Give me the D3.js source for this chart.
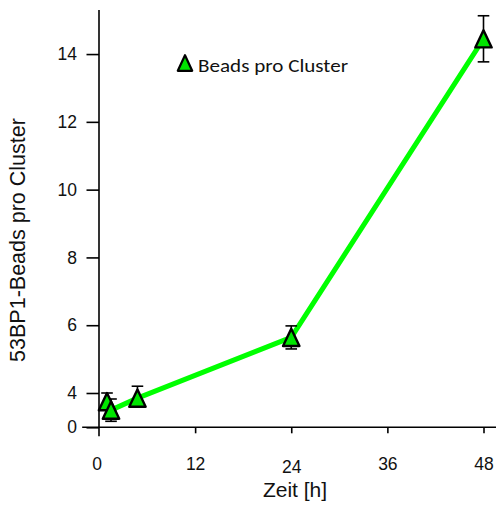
<!DOCTYPE html>
<html>
<head>
<meta charset="utf-8">
<script src="https://cdn.jsdelivr.net/npm/d3@7/dist/d3.min.js"></script>
<style>
  html, body { margin: 0; padding: 0; background: #fff; }
  svg { display: block; }
  text { font-family: "Liberation Sans", Arial, Helvetica, sans-serif; fill: #111; }
</style>
</head>
<body>
<svg id="chart" width="496" height="505"></svg>
<script>
// Time points (hours) and 53BP1 bead counts per cluster (mean ± error)
const times = [1, 1.5, 4.8, 24, 48];
const means = [3.0, 2.0, 3.4, 5.64, 14.45];
const errors = [1.0, 1.3, 0.8, 0.34, 0.68];

const xTicks = [0, 12, 24, 36, 48];
const yTicks = [0, 4, 6, 8, 10, 12, 14];

const seriesName = "Beads pro Cluster";
const xTitle = "Zeit [h]";
const yTitle = "53BP1-Beads pro Cluster";

const svg = d3.select("#chart");
const W = 496;

// x: hours; y: broken axis, 0–4 compressed below the main 4–15 range
const x = d3.scaleLinear().domain([0, 48]).range([99, 483.5]);
const y = d3.scaleLinear().domain([0, 4, 15.3]).range([427.3, 393, 10]);

const lime = "#00ff00";
const fillGreen = "#00e600";

// axis lines
svg.append("line")
  .attr("x1", x(-2.1)).attr("x2", W)
  .attr("y1", y(0)).attr("y2", y(0))
  .attr("stroke", "#000").attr("stroke-width", 1.6);
svg.append("line")
  .attr("x1", x(0)).attr("x2", x(0))
  .attr("y1", y(15.3)).attr("y2", y(0) + 9)
  .attr("stroke", "#000").attr("stroke-width", 1.6);

// y axis ticks + labels
const yAxis = d3.axisLeft(y).tickValues(yTicks).tickSize(12.5).tickPadding(9.5).tickFormat(d3.format("d"));
const gy = svg.append("g").attr("transform", `translate(${x(0)},0)`).call(yAxis);
gy.select(".domain").remove();
gy.selectAll(".tick line").attr("stroke", "#000").attr("stroke-width", 1.6);
gy.selectAll(".tick text").style("font-size", "17.5px").attr("fill", "#111");

// x axis ticks + labels
const xAxis = d3.axisBottom(x).tickValues(xTicks).tickSize(6).tickPadding(0).tickFormat(d3.format("d"));
const gx = svg.append("g").attr("transform", `translate(0,${y(0)})`).call(xAxis);
gx.select(".domain").remove();
gx.selectAll(".tick line").attr("stroke", "#000").attr("stroke-width", 1.6)
  .filter(d => d === 0).remove();
gx.selectAll(".tick text")
  .style("font-size", "17.5px").attr("fill", "#111")
  .attr("dy", null)
  .attr("y", d => d === 24 ? 46 : 43)
  .attr("dx", d => d === 0 ? -2.5 : 0);

// axis titles
svg.append("text")
  .attr("x", 295).attr("y", 497)
  .attr("text-anchor", "middle")
  .style("font-size", "21px")
  .text(xTitle);
svg.append("text")
  .attr("transform", "translate(25,240) rotate(-90)")
  .attr("text-anchor", "middle")
  .style("font-size", "21.5px")
  .text(yTitle);

const pts = times.map((t, i) => ({ t, m: means[i], e: errors[i] }));

// connecting line
svg.append("path")
  .datum(pts)
  .attr("fill", "none")
  .attr("stroke", lime)
  .attr("stroke-width", 5)
  .attr("stroke-linejoin", "round")
  .attr("d", d3.line().x(d => x(d.t)).y(d => y(d.m)));

// error bars
const eb = svg.append("g").attr("stroke", "#000").attr("stroke-width", 1.6);
const capW = 5.8;
pts.forEach(d => {
  const cx = x(d.t), top = y(d.m + d.e), bot = y(d.m - d.e);
  eb.append("line").attr("x1", cx).attr("x2", cx).attr("y1", top).attr("y2", bot);
  eb.append("line").attr("x1", cx - capW).attr("x2", cx + capW).attr("y1", top).attr("y2", top);
  eb.append("line").attr("x1", cx - capW).attr("x2", cx + capW).attr("y1", bot).attr("y2", bot);
});

// triangle markers
const tri = (hw, hh) => `M0,${-hh}L${hw},${hh}L${-hw},${hh}Z`;
svg.append("g").selectAll("path")
  .data(pts)
  .join("path")
  .attr("transform", d => `translate(${x(d.t)},${y(d.m)})`)
  .attr("d", tri(8.2, 8.6))
  .attr("fill", fillGreen)
  .attr("stroke", "#000")
  .attr("stroke-width", 2.4)
  .attr("stroke-linejoin", "round");

// legend
const lg = svg.append("g").attr("transform", "translate(185,63)");
lg.append("path")
  .attr("d", tri(7.2, 7.8))
  .attr("fill", fillGreen)
  .attr("stroke", "#000")
  .attr("stroke-width", 2.2)
  .attr("stroke-linejoin", "round");
lg.append("text")
  .attr("x", 13).attr("y", 8.5)
  .style("font-family", "Carlito, Calibri, 'Open Sans', sans-serif")
  .style("font-size", "19px")
  .attr("textLength", 150)
  .attr("lengthAdjust", "spacingAndGlyphs")
  .text(seriesName);
</script>
</body>
</html>
